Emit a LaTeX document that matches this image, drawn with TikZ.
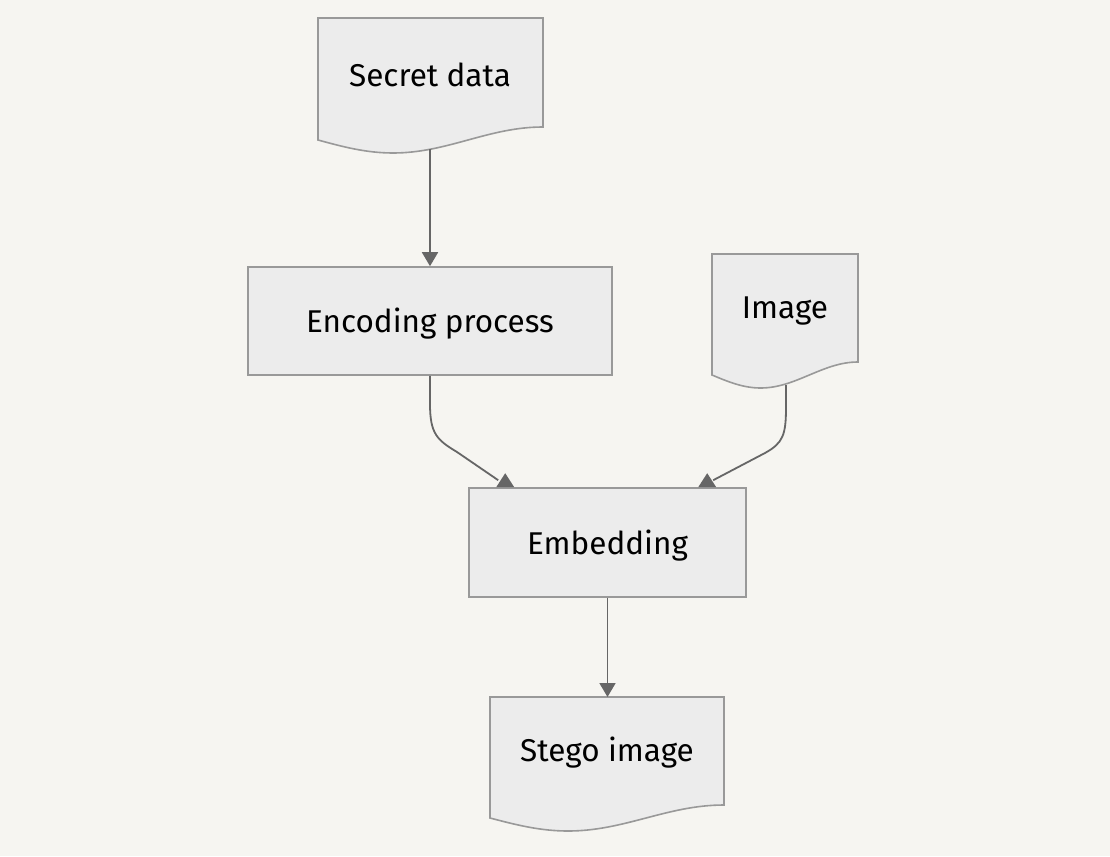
\documentclass[tikz,border=0pt]{standalone}
\usepackage{fontspec}
\setmainfont{Fira Sans}
\usetikzlibrary{arrows.meta,calc}
\definecolor{bgc}{HTML}{F6F5F1}
\definecolor{boxfill}{HTML}{ECECEC}
\definecolor{boxline}{HTML}{999999}
\definecolor{edgec}{HTML}{666666}
\tikzset{
  procbox/.style={draw=boxline, fill=boxfill, line width=1.6pt, rectangle, inner sep=0pt},
  docbox/.style={draw=boxline, fill=boxfill, line width=1.6pt},
  lbl/.style={font=\fontsize{31.5}{36}\selectfont, text=black, inner sep=0pt},
  edge/.style={draw=edgec, line width=1.8pt},
  tipdown/.style={-{Triangle[width=16pt,length=14pt]}},
  tipfill/.style={fill=edgec, draw=none},
}
\newcommand{\docshape}[5]{% x0 x1 top c a
  \pgfmathsetmacro{\dw}{(#2-#1)/3}
  \path[docbox] (#1,#3) -- (#2,#3) -- (#2,#4-#5)
    cos (#2-\dw,#4) sin (#2-2*\dw,#4+#5) cos (#1,#4) -- cycle;
}
\begin{document}
\begin{tikzpicture}[x=1pt,y=-1pt]
\fill[bgc] (0,0) rectangle (1110,856);
\useasboundingbox (0,0) rectangle (1110,856);
% document shapes
\docshape{318}{543}{18}{140}{13}
\docshape{712}{858}{254}{375}{13}
\docshape{490}{724}{697}{818}{13}
% nodes
\node[lbl] (secret) at (430,75) {Secret data};
\node[procbox, minimum width=364pt, minimum height=108pt] (enc) at (430,321) {};
\node[lbl] (enctext) at ($(enc.center)+(0,3)$) {Encoding process};
\node[lbl] (image) at (785,311) {Image};
\node[procbox, minimum width=277pt, minimum height=109pt] (emb) at (607.5,542.5) {};
\node[lbl] (embtext) at ($(emb.center)+(0,3)$) {Embedding};
\node[lbl] (stego) at (607,753) {Stego image};
% anchor coordinates
\coordinate (secretout) at (430,149);
\coordinate (imageout) at (786,385);
\coordinate (embinL) at ($(emb.north west)+(37,0)$);
\coordinate (embinR) at ($(emb.north west)+(239,0)$);
\coordinate (stegoin) at (emb.south |- 0,697);
% edges
\draw[edge, tipdown] (secretout) -- (secretout |- enc.north);
\draw[edge] (enc.south -| secretout) -- ++(0,28)
  .. controls +(0,30) and +(-20,-12) .. (457,452) -- ($(embinL)+(-7,-7)$);
\draw[edge] (imageout) -- ++(0,22)
  .. controls +(0,28) and +(18,-10) .. (765,453) -- ($(embinR)+(6,-7)$);
\fill[tipfill] ($(embinL)+(0,-14)$) -- ($(embinL)+(9,0)$) -- ($(embinL)+(-9,0)$) -- cycle;
\fill[tipfill] ($(embinR)+(0,-14)$) -- ($(embinR)+(9,0)$) -- ($(embinR)+(-9,0)$) -- cycle;
\draw[edge, tipdown] (emb.south) -- (stegoin);
\end{tikzpicture}
\end{document}
